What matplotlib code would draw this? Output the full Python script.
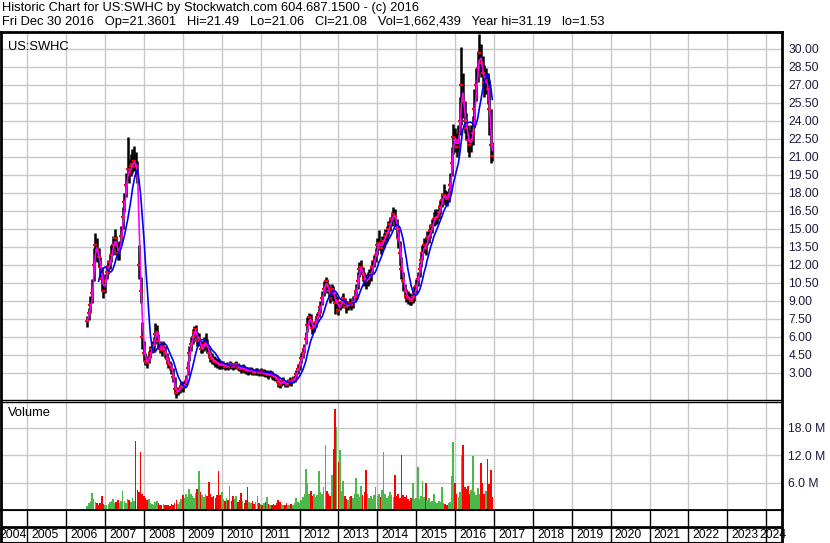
import matplotlib
matplotlib.use('Agg')
import matplotlib.pyplot as plt
import matplotlib.dates as mdates
import numpy as np
import pandas as pd
from datetime import datetime

plt.rcParams['font.family'] = ['Liberation Sans', 'DejaVu Sans']

# semi-monthly samples, Jul 2006 .. Dec 2016
start = '2006-07-15'

close = [
    7.3, 8.0, 8.6, 9.6, 12.0, 13.6, 13.2, 12.6, 11.8, 10.8, 9.8,
    10.6, 11.4, 11.8, 12.2, 12.8, 13.6, 14.2, 13.6, 13.0, 13.2, 14.4, 16.0,
    17.2, 18.6, 20.0, 19.6, 20.2, 20.4, 20.6, 20.2, 19.4, 12.0, 9.8, 6.0,
    4.6, 4.0, 3.8, 4.2, 4.6, 5.0, 5.3, 6.2, 6.4, 5.6, 5.0, 4.9,
    5.2, 4.6, 4.1, 3.8, 3.6, 3.3, 2.6, 1.6, 1.3, 1.5, 1.6, 1.9,
    1.8, 2.0, 2.3, 3.4, 4.6, 5.4, 6.0, 6.4, 6.6, 5.6, 5.9, 5.0,
    5.0, 5.3, 5.5, 5.2, 4.6, 4.3, 4.1, 4.0, 3.9, 3.8, 3.7, 3.6,
    3.6, 3.7, 3.5, 3.6, 3.5, 3.7, 3.6, 3.5, 3.6, 3.7, 3.5, 3.4,
    3.3, 3.4, 3.3, 3.2, 3.1, 3.2, 3.2, 3.1, 3.0, 3.1, 3.1, 3.0,
    3.1, 3.0, 3.0, 2.9, 2.9, 2.8, 2.9, 2.8, 2.7, 2.6, 2.5, 2.2,
    2.0, 2.2, 2.3, 2.1, 2.0, 2.2, 2.3, 2.2, 2.4, 2.5, 2.9, 3.3,
    3.6, 4.2, 4.6, 5.0, 5.8, 7.0, 7.6, 7.3, 6.7, 6.8, 7.2, 7.6,
    8.0, 8.5, 9.2, 10.0, 10.6, 10.2, 9.8, 9.2, 10.0, 9.6, 8.8, 9.0,
    8.2, 8.6, 8.9, 9.2, 8.8, 8.5, 8.6, 8.8, 8.6, 8.9, 9.3, 9.8,
    10.6, 11.6, 11.8, 11.2, 10.8, 10.6, 10.8, 11.0, 11.2, 11.8, 12.3, 12.8,
    13.6, 13.8, 13.4, 13.8, 14.0, 14.4, 14.6, 15.0, 15.4, 15.8, 16.2, 16.0,
    15.0, 14.2, 13.0, 11.6, 10.6, 9.8, 9.4, 9.2, 9.1, 9.0, 9.3, 9.6,
    10.2, 10.8, 11.6, 12.4, 13.0, 13.6, 13.4, 14.2, 14.4, 14.8, 15.2, 15.8,
    15.9, 16.0, 16.4, 16.8, 17.4, 17.8, 17.6, 17.5, 17.8, 18.6, 20.5, 22.6,
    22.4, 21.8, 22.4, 24.0, 27.0, 25.6, 24.0, 23.4, 22.4, 22.0, 22.4, 23.0,
    25.0, 27.0, 28.4, 29.6, 28.8, 28.0, 27.2, 27.4, 26.6, 25.0, 22.0, 21.08,
]

high = [
    7.7, 8.4, 9.4, 10.8, 13.4, 14.6, 14.2, 13.4, 12.6, 11.8, 10.6,
    11.2, 12.0, 12.4, 12.8, 13.6, 14.4, 15.0, 14.4, 13.8, 14.0, 15.2, 16.8,
    18.0, 19.6, 22.6, 20.8, 21.2, 21.6, 21.9, 21.4, 20.6, 13.6, 11.0, 7.2,
    5.6, 4.6, 4.4, 4.8, 5.2, 5.6, 6.0, 7.1, 7.0, 6.2, 5.6, 5.4,
    5.6, 5.2, 4.6, 4.3, 4.0, 3.8, 3.4, 2.6, 1.8, 1.8, 2.0, 2.3,
    2.2, 2.3, 2.8, 4.0, 5.2, 6.0, 6.6, 6.9, 7.0, 6.4, 6.3, 5.6,
    5.6, 6.0, 6.3, 5.8, 5.2, 4.8, 4.6, 4.4, 4.3, 4.2, 4.1, 4.0,
    3.9, 4.0, 3.8, 3.9, 3.8, 4.0, 3.9, 3.8, 3.9, 4.0, 3.8, 3.7,
    3.6, 3.7, 3.6, 3.5, 3.4, 3.5, 3.5, 3.4, 3.3, 3.4, 3.4, 3.3,
    3.4, 3.3, 3.3, 3.2, 3.2, 3.1, 3.2, 3.1, 3.0, 2.9, 2.8, 2.6,
    2.3, 2.5, 2.6, 2.4, 2.3, 2.5, 2.6, 2.5, 2.7, 2.8, 3.2, 3.7,
    4.0, 4.6, 5.0, 5.4, 6.4, 7.6, 8.0, 7.9, 7.2, 7.2, 7.6, 8.0,
    8.4, 9.0, 9.8, 10.6, 11.0, 10.8, 10.4, 9.8, 10.4, 10.2, 9.6, 9.4,
    8.8, 9.0, 9.4, 9.6, 9.2, 9.0, 9.0, 9.2, 9.0, 9.4, 9.8, 10.4,
    11.4, 12.2, 12.4, 11.8, 11.4, 11.2, 11.4, 11.6, 11.8, 12.4, 12.8, 13.4,
    14.2, 14.9, 14.0, 14.4, 14.6, 15.0, 15.2, 15.6, 16.0, 16.4, 16.8, 16.6,
    15.8, 15.0, 14.0, 12.6, 11.4, 10.4, 10.0, 9.8, 9.6, 9.5, 9.8, 10.2,
    10.8, 11.4, 12.2, 13.0, 13.6, 14.2, 14.2, 14.8, 15.0, 15.4, 15.8, 16.4,
    16.6, 16.6, 17.0, 17.4, 18.0, 18.7, 18.2, 18.1, 18.4, 19.6, 21.8, 23.7,
    23.4, 23.0, 23.6, 26.0, 30.1, 28.0, 25.6, 24.6, 23.6, 23.2, 23.6, 24.4,
    26.6, 28.4, 29.8, 31.19, 30.4, 29.4, 28.6, 28.4, 28.0, 27.4, 25.0, 22.2,
]

low = [
    6.8, 7.4, 8.0, 8.8, 10.6, 12.4, 12.2, 11.8, 11.0, 9.8, 9.2,
    9.6, 10.8, 11.2, 11.6, 12.2, 12.8, 13.4, 12.8, 12.4, 12.4, 13.6, 15.0,
    16.4, 17.6, 19.0, 18.8, 19.4, 19.6, 19.8, 19.4, 18.8, 10.8, 8.8, 5.0,
    4.0, 3.6, 3.4, 3.8, 4.2, 4.6, 4.8, 5.4, 5.6, 5.0, 4.6, 4.4,
    4.6, 4.2, 3.7, 3.4, 3.2, 2.9, 2.2, 1.2, 0.9, 1.1, 1.3, 1.5,
    1.4, 1.7, 2.0, 2.8, 4.0, 4.8, 5.4, 5.8, 6.0, 5.2, 5.2, 4.6,
    4.6, 4.8, 5.0, 4.6, 4.2, 3.9, 3.7, 3.6, 3.5, 3.4, 3.3, 3.3,
    3.3, 3.4, 3.2, 3.3, 3.2, 3.4, 3.3, 3.2, 3.3, 3.4, 3.2, 3.1,
    3.0, 3.1, 3.0, 2.9, 2.8, 2.9, 2.9, 2.8, 2.8, 2.8, 2.8, 2.7,
    2.8, 2.7, 2.7, 2.6, 2.6, 2.5, 2.6, 2.5, 2.4, 2.3, 2.2, 1.8,
    1.7, 1.9, 2.0, 1.8, 1.8, 1.9, 2.0, 1.9, 2.1, 2.2, 2.5, 2.9,
    3.2, 3.8, 4.2, 4.6, 5.4, 6.4, 7.0, 6.8, 6.2, 6.4, 6.8, 7.2,
    7.6, 8.0, 8.6, 9.4, 10.0, 9.6, 9.2, 8.8, 9.2, 9.0, 7.9, 8.4,
    7.8, 8.2, 8.4, 8.8, 8.4, 8.0, 8.2, 8.4, 8.2, 8.4, 8.9, 9.2,
    10.0, 11.0, 11.2, 10.6, 10.2, 10.0, 10.2, 10.4, 10.6, 11.2, 11.8, 12.2,
    12.8, 13.2, 12.9, 13.2, 13.4, 13.8, 14.0, 14.4, 14.8, 15.2, 15.6, 15.2,
    14.2, 13.4, 12.0, 10.8, 9.8, 9.2, 8.9, 8.7, 8.6, 8.6, 8.8, 9.0,
    9.6, 10.2, 11.0, 11.8, 12.4, 13.0, 12.8, 13.6, 13.8, 14.2, 14.6, 15.2,
    15.3, 15.4, 15.8, 16.2, 16.8, 17.2, 17.0, 16.9, 17.2, 17.8, 19.4, 21.2,
    21.4, 21.0, 21.4, 22.8, 23.6, 24.2, 23.0, 22.4, 21.4, 21.0, 21.4, 22.0,
    23.4, 25.6, 27.2, 28.0, 27.6, 26.8, 26.0, 26.2, 25.4, 22.8, 20.5, 20.6,
]

# volume in millions
volume = [
    0.8, 1.6, 2.0, 3.8, 2.4, 1.8, 1.5, 1.2, 1.6, 3.1, 1.4,
    1.2, 1.0, 1.4, 1.8, 2.0, 2.4, 1.6, 1.8, 2.2, 1.6, 2.0, 4.1,
    2.0, 1.6, 2.4, 2.2, 1.8, 2.6, 2.0, 15.0, 4.4, 4.0, 12.6, 3.6,
    3.0, 2.6, 2.2, 2.4, 1.6, 1.4, 1.2, 1.8, 2.0, 1.6, 1.2, 1.0,
    1.4, 1.2, 1.0, 1.2, 0.9, 1.4, 1.2, 1.6, 2.2, 1.4, 1.8, 2.4,
    3.2, 2.6, 3.4, 2.8, 4.6, 3.6, 3.0, 2.6, 3.8, 4.5, 8.6, 4.0,
    3.2, 2.8, 3.6, 3.0, 6.1, 3.4, 2.8, 3.0, 2.6, 3.2, 8.6, 3.2,
    3.9, 2.4, 2.0, 2.6, 2.2, 5.2, 2.0, 3.0, 2.4, 3.0, 1.8, 2.2,
    3.8, 2.0, 1.6, 2.2, 5.0, 1.8, 1.6, 2.0, 1.4, 1.8, 3.0, 1.6,
    1.4, 1.2, 1.6, 1.8, 2.9, 1.4, 1.2, 1.0, 1.4, 1.2, 1.6, 2.2,
    1.8, 1.4, 1.2, 1.0, 1.5, 1.2, 1.0, 1.4, 1.2, 1.6, 2.7, 1.8,
    1.6, 2.2, 2.8, 3.6, 9.0, 6.0, 3.4, 4.2, 3.0, 3.6, 2.8, 3.2,
    8.6, 4.0, 3.4, 5.0, 14.2, 4.2, 3.6, 3.0, 7.6, 13.3, 22.1, 18.2,
    10.5, 13.1, 4.2, 6.4, 3.0, 2.4, 2.2, 2.8, 3.0, 2.6, 3.4, 6.9,
    3.6, 2.8, 5.2, 3.2, 4.0, 8.7, 3.4, 2.6, 3.0, 2.4, 3.2, 5.0,
    3.0, 3.6, 2.8, 4.4, 12.6, 3.4, 2.6, 3.0, 4.0, 3.2, 2.8, 7.7,
    3.0, 3.6, 2.6, 12.0, 3.3, 2.8, 3.2, 2.4, 2.0, 2.6, 5.8, 2.4,
    2.6, 9.5, 2.4, 3.0, 6.3, 2.8, 6.0, 2.2, 2.6, 1.8, 2.0, 3.5,
    1.8, 1.6, 2.0, 1.8, 5.0, 1.6, 1.4, 1.2, 1.6, 1.8, 7.5, 14.8,
    6.0, 3.4, 2.8, 4.0, 12.0, 14.2, 5.0, 4.6, 5.2, 3.6, 4.4, 11.7,
    4.0, 3.2, 4.8, 3.6, 10.2, 6.0, 3.4, 4.2, 11.2, 5.6, 8.8, 2.8,
]

price_ticks = [3.0, 4.5, 6.0, 7.5, 9.0, 10.5, 12.0, 13.5, 15.0, 16.5, 18.0,
               19.5, 21.0, 22.5, 24.0, 25.5, 27.0, 28.5, 30.0]
vol_ticks = [6, 12, 18]
years = list(range(2004, 2025))

header1 = 'Historic Chart for US:SWHC by Stockwatch.com 604.687.1500 - (c) 2016'
header2 = ('Fri Dec 30 2016   Op=21.3601   Hi=21.49   Lo=21.06   Cl=21.08   '
           'Vol=1,662,439   Year hi=31.19   lo=1.53')

df = pd.DataFrame({'close': close, 'high': high, 'low': low, 'volume': volume},
                  index=pd.date_range(start, periods=len(close), freq='SMS-15'))
df['ma_fast'] = df['close'].rolling(2, min_periods=1).mean()
df['ma_slow'] = df['close'].rolling(8).mean()
up = df['close'].diff().fillna(0) >= 0

W, H = 830, 543
fig = plt.figure(figsize=(W / 100, H / 100), dpi=100)


def rect(x0, y0, x1, y1):
    return [x0 / W, 1 - y1 / H, (x1 - x0) / W, (y1 - y0) / H]


xmin = mdates.date2num(datetime(2004, 4, 28))
xmax = mdates.date2num(datetime(2024, 5, 24))
year_lines = [mdates.date2num(datetime(y, 1, 1)) for y in years]
grid_c = '#c8c8c8'
fs = 8.7
fs_txt = 9.3

ax = fig.add_axes(rect(1, 31.5, 781.5, 399.5))
vax = fig.add_axes(rect(1, 401.5, 781.5, 510))
dax = fig.add_axes(rect(1, 510, 781.5, 542))

for a in (ax, vax, dax):
    a.set_xlim(xmin, xmax)
    a.set_xticks([])
    for s in a.spines.values():
        s.set_color('black')
    a.spines['left'].set_linewidth(2)
    a.spines['right'].set_linewidth(2)

# price panel
ax.set_ylim(0.75, 31.42)
for yl in year_lines:
    ax.axvline(yl, color=grid_c, lw=1, zorder=0)
for t in price_ticks:
    ax.axhline(t, color=grid_c, lw=1, zorder=0)
ax.vlines(df.index, df['low'], df['high'], color='black', lw=1.8, zorder=2)
ax.plot(df.index, df['close'], ls='none', marker='_', ms=2.5, mew=1.6,
        color='red', zorder=3)
ax.plot(df.index, df['ma_fast'], color='#ff00ff', lw=1.2, zorder=4)
ax.plot(df.index, df['ma_slow'], color='#0000ff', lw=1.2, zorder=5)
ax.yaxis.tick_right()
ax.set_yticks(price_ticks)
ax.set_yticklabels(['%.2f' % t for t in price_ticks], fontsize=fs, color='#1a1a3a')
ax.tick_params(axis='y', length=0, pad=5)
ax.spines['top'].set_linewidth(2)
ax.spines['bottom'].set_linewidth(1)
ax.text(0.009, 0.975, 'US:SWHC', transform=ax.transAxes, fontsize=fs_txt,
        ha='left', va='top')

# volume panel
vax.set_ylim(0, 23.7)
for yl in year_lines:
    vax.axvline(yl, color=grid_c, lw=1, zorder=0)
for t in vol_ticks:
    vax.axhline(t, color=grid_c, lw=1, zorder=0)
colors = np.where(up, '#4cb84c', '#ff0000')
vax.bar(df.index, df['volume'], width=15, color=colors, linewidth=0, zorder=2)
vax.yaxis.tick_right()
vax.set_yticks(vol_ticks)
vax.set_yticklabels(['%.1f M' % t for t in vol_ticks], fontsize=fs, color='#1a1a3a')
vax.tick_params(axis='y', length=0, pad=5)
vax.spines['top'].set_linewidth(1)
vax.spines['bottom'].set_linewidth(2)
vax.text(0.009, 0.95, 'Volume', transform=vax.transAxes, fontsize=fs_txt,
         ha='left', va='top')

# date strip
dax.set_ylim(0, 1)
dax.set_yticks([])
dax.axhline(0.47, color='black', lw=2)
for yl in year_lines:
    dax.axvline(yl, color='black', lw=1)
for y, yl in zip(years, year_lines):
    if y == years[0]:
        dax.text(-0.002, 0.22, str(y), transform=dax.transAxes, fontsize=fs,
                 ha='left', va='center')
    elif y == years[-1]:
        dax.text(1.007, 0.22, str(y), transform=dax.transAxes, fontsize=fs,
                 ha='right', va='center', clip_on=False)
    else:
        dax.text(yl + 40, 0.22, str(y), fontsize=fs, ha='left', va='center')

# header
fig.text(2 / W, 1 - 8 / H, header1, fontsize=fs_txt, ha='left', va='center')
fig.text(2 / W, 1 - 21.5 / H, header2, fontsize=fs_txt, ha='left', va='center')

fig.savefig('out.png', dpi=100)
